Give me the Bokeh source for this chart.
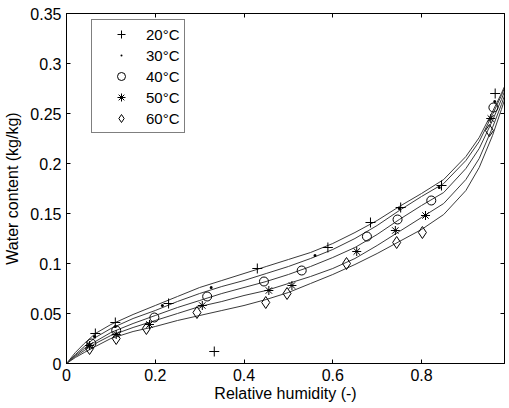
from bokeh.plotting import figure
from bokeh.models import FixedTicker, LinearAxis, Range1d, CustomLabelingPolicy
from bokeh.embed import file_html
from bokeh.resources import INLINE

# Fitted sorption curves
rh_grid = [0, 0.02, 0.04, 0.065, 0.1, 0.15, 0.2, 0.25, 0.3, 0.35, 0.4, 0.45, 0.5,
           0.55, 0.6, 0.65, 0.7, 0.75, 0.8, 0.85, 0.9, 0.93, 0.96, 0.98, 1.0]
fit_20 = [0, 0.011, 0.020, 0.030, 0.039, 0.049, 0.058, 0.067, 0.076, 0.083, 0.090, 0.097, 0.104,
          0.111, 0.120, 0.131, 0.143, 0.157, 0.170, 0.184, 0.207, 0.226, 0.252, 0.270, 0.290]
fit_30 = [0, 0.009, 0.017, 0.026, 0.035, 0.045, 0.053, 0.062, 0.070, 0.077, 0.083, 0.090, 0.097,
          0.105, 0.114, 0.125, 0.138, 0.153, 0.167, 0.180, 0.203, 0.222, 0.249, 0.268, 0.289]
fit_40 = [0, 0.008, 0.015, 0.022, 0.031, 0.040, 0.048, 0.056, 0.063, 0.070, 0.076, 0.082, 0.089,
          0.097, 0.106, 0.116, 0.129, 0.144, 0.158, 0.171, 0.195, 0.215, 0.243, 0.264, 0.287]
fit_50 = [0, 0.007, 0.013, 0.020, 0.028, 0.036, 0.043, 0.050, 0.057, 0.062, 0.068, 0.073, 0.080,
          0.087, 0.095, 0.105, 0.118, 0.132, 0.146, 0.160, 0.184, 0.205, 0.236, 0.259, 0.284]
fit_60 = [0, 0.006, 0.011, 0.017, 0.025, 0.032, 0.037, 0.043, 0.048, 0.053, 0.058, 0.064, 0.071,
          0.080, 0.089, 0.099, 0.110, 0.122, 0.134, 0.149, 0.173, 0.196, 0.228, 0.254, 0.281]

# Measured points
obs_20_rh = [0.065, 0.11, 0.23, 0.333, 0.43, 0.589, 0.685, 0.753, 0.845, 0.966]
obs_20_w = [0.030, 0.041, 0.060, 0.012, 0.095, 0.116, 0.141, 0.156, 0.178, 0.270]
obs_30_rh = [0.063, 0.11, 0.216, 0.326, 0.56, 0.75, 0.84, 0.965]
obs_30_w = [0.027, 0.037, 0.058, 0.076, 0.108, 0.155, 0.176, 0.262]
obs_40_rh = [0.056, 0.112, 0.198, 0.317, 0.445, 0.53, 0.677, 0.746, 0.822, 0.962]
obs_40_w = [0.020, 0.033, 0.046, 0.067, 0.082, 0.093, 0.127, 0.144, 0.163, 0.256]
obs_50_rh = [0.052, 0.112, 0.187, 0.306, 0.456, 0.508, 0.654, 0.741, 0.809, 0.956]
obs_50_w = [0.018, 0.029, 0.039, 0.058, 0.073, 0.078, 0.112, 0.133, 0.148, 0.245]
obs_60_rh = [0.052, 0.112, 0.18, 0.294, 0.449, 0.497, 0.631, 0.744, 0.802, 0.953]
obs_60_w = [0.015, 0.025, 0.035, 0.051, 0.061, 0.070, 0.100, 0.121, 0.131, 0.233]

labels = ["20°C", "30°C", "40°C", "50°C", "60°C"]

x_ticks = [0, 0.2, 0.4, 0.6, 0.8]
x_tick_labels = ["0", "0.2", "0.4", "0.6", "0.8"]
y_ticks = [0, 0.05, 0.1, 0.15, 0.2, 0.25, 0.3, 0.35]
y_tick_labels = ["0", "0.05", "0.1", "0.15", "0.2", "0.25", "0.3", "0.35"]

FONT = "Liberation Sans"
FS = "16px"

p = figure(width=509, height=408, output_backend="svg", toolbar_location=None,
           x_range=Range1d(0, 0.987), y_range=Range1d(0, 0.35),
           min_border_left=66, min_border_right=2, min_border_top=13, min_border_bottom=45,
           background_fill_color="white", border_fill_color="white")
p.grid.visible = False
p.outline_line_color = "black"
p.outline_line_width = 1

for ax, ticks, tl in ((p.xaxis[0], x_ticks, x_tick_labels), (p.yaxis[0], y_ticks, y_tick_labels)):
    ax.ticker = FixedTicker(ticks=ticks)
    ax.major_label_overrides = {t: l for t, l in zip(ticks, tl)}
    ax.major_tick_in = 4
    ax.major_tick_out = 0
    ax.minor_tick_line_color = None
    ax.axis_line_color = "black"
    ax.major_label_text_font = FONT
    ax.major_label_text_font_size = FS
    ax.major_label_text_color = "black"
    ax.axis_label_text_font = FONT
    ax.axis_label_text_font_size = FS
    ax.axis_label_text_font_style = "normal"
    ax.axis_label_text_color = "black"

p.xaxis.axis_label = "Relative humidity (-)"
p.yaxis.axis_label = "Water content (kg/kg)"
p.xaxis.major_label_standoff = 5
p.xaxis.axis_label_standoff = 1
p.yaxis.major_label_standoff = 5
p.yaxis.axis_label_standoff = 6

no_labels = "for (const i of Array.from(indices.ones())) { indices.unset(i) } return indices"

top = LinearAxis(ticker=FixedTicker(ticks=x_ticks), major_label_text_font_size="1px",
                 major_label_policy=CustomLabelingPolicy(code=no_labels),
                 major_label_standoff=0, major_tick_in=4, major_tick_out=0,
                 minor_tick_line_color=None, axis_line_color="black")
right = LinearAxis(ticker=FixedTicker(ticks=y_ticks), major_label_text_font_size="1px",
                   major_label_policy=CustomLabelingPolicy(code=no_labels),
                   major_label_standoff=0, major_tick_in=4, major_tick_out=0,
                   minor_tick_line_color=None, axis_line_color="black")
p.add_layout(top, "above")
p.add_layout(right, "right")

for fit in (fit_20, fit_30, fit_40, fit_50, fit_60):
    p.line(rh_grid, fit, line_color="#3a3a3a", line_width=1)

p.scatter(obs_20_rh, obs_20_w, marker="cross", size=10, line_color="black", line_width=1,
          legend_label=labels[0])
p.scatter(obs_30_rh, obs_30_w, marker="dot", size=12, line_color="black", fill_color="black",
          legend_label=labels[1])
p.scatter(obs_40_rh, obs_40_w, marker="circle", size=9, line_color="black", fill_color=None,
          line_width=1, legend_label=labels[2])
p.scatter(obs_50_rh, obs_50_w, marker="asterisk", size=9, line_color="black", line_width=1,
          legend_label=labels[3])
p.scatter(obs_60_rh, obs_60_w, marker="diamond", size=12, line_color="black", fill_color=None,
          line_width=1, legend_label=labels[4])

lg = p.legend[0]
lg.location = (25, 230)
lg.border_line_color = "black"
lg.border_line_width = 1
lg.background_fill_color = "white"
lg.background_fill_alpha = 1
lg.padding = 4
lg.margin = 0
lg.spacing = 1
lg.glyph_width = 50
lg.glyph_height = 20
lg.label_height = 20
lg.label_standoff = 0
lg.label_text_font = FONT
lg.label_text_font_size = "15px"
lg.label_text_color = "black"

open("out.html", "w").write(file_html(p, INLINE))
